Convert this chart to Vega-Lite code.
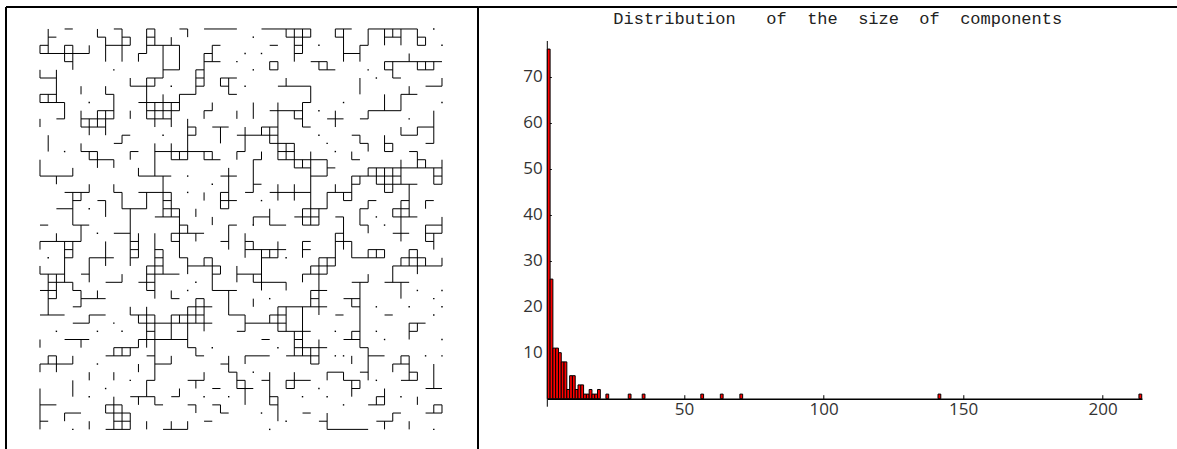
{"$schema":"https://vega.github.io/schema/vega-lite/v6.json","background":"white","padding":{"left":5,"top":6,"right":0,"bottom":0},"spacing":69.3,"bounds":"flush","config":{"view":{"stroke":null}},"hconcat":[{"width":472,"height":442,"layer":[
{"data":{"values":[{"x":-4.144,"x2":-4.144,"y":-2.69,"y2":51.4},{"x":53.39,"x2":53.39,"y":-2.69,"y2":51.4},{"x":-4.144,"x2":53.39,"y":-2.69,"y2":-2.69}]},"mark":{"type":"rule","color":"black","strokeWidth":2},"encoding":{"x":{"field":"x","type":"quantitative","scale":{"domain":[-4.144,53.39],"nice":false,"zero":false},"axis":null},"x2":{"field":"x2"},"y":{"field":"y","type":"quantitative","scale":{"domain":[-2.69,51.4],"reverse":true,"nice":false,"zero":false},"axis":null},"y2":{"field":"y2"}}},
{"data":{"values":[
{"r":0,"a":3,"b":4},{"r":0,"a":9,"b":10},{"r":0,"a":13,"b":14},{"r":0,"a":17,"b":18},{"r":0,"a":20,"b":24},{"r":0,"a":27,"b":33},{"r":0,"a":36,"b":38},{"r":0,"a":40,"b":46},
{"r":1,"a":1,"b":2},{"r":1,"a":7,"b":8},{"r":1,"a":10,"b":11},{"r":1,"a":13,"b":14},{"r":1,"a":30,"b":33},{"r":1,"a":36,"b":37},{"r":1,"a":42,"b":44},{"r":1,"a":46,"b":47},
{"r":2,"a":0,"b":1},{"r":2,"a":3,"b":4},{"r":2,"a":8,"b":11},{"r":2,"a":13,"b":17},{"r":2,"a":21,"b":22},{"r":2,"a":28,"b":29},{"r":2,"a":31,"b":32},{"r":2,"a":39,"b":40},{"r":2,"a":46,"b":47},
{"r":3,"a":0,"b":6},{"r":3,"a":12,"b":13},{"r":3,"a":20,"b":21},{"r":3,"a":31,"b":32},{"r":3,"a":37,"b":39},
{"r":4,"a":3,"b":4},{"r":4,"a":20,"b":22},{"r":4,"a":28,"b":29},{"r":4,"a":33,"b":35},{"r":4,"a":42,"b":49},
{"r":5,"a":15,"b":17},{"r":5,"a":19,"b":20},{"r":5,"a":28,"b":29},{"r":5,"a":34,"b":36},{"r":5,"a":42,"b":43},{"r":5,"a":46,"b":48},
{"r":6,"a":0,"b":2},{"r":6,"a":13,"b":15},{"r":6,"a":19,"b":20},{"r":6,"a":22,"b":24},{"r":6,"a":43,"b":44},
{"r":7,"a":11,"b":14},{"r":7,"a":19,"b":20},{"r":7,"a":22,"b":23},{"r":7,"a":29,"b":33},{"r":7,"a":47,"b":49},
{"r":8,"a":0,"b":2},{"r":8,"a":8,"b":9},{"r":8,"a":17,"b":19},{"r":8,"a":23,"b":24},{"r":8,"a":44,"b":46},
{"r":9,"a":0,"b":3},{"r":9,"a":12,"b":17},{"r":9,"a":32,"b":33},
{"r":10,"a":7,"b":9},{"r":10,"a":13,"b":17},{"r":10,"a":20,"b":21},{"r":10,"a":28,"b":32},{"r":10,"a":40,"b":44},
{"r":11,"a":2,"b":3},{"r":11,"a":5,"b":9},{"r":11,"a":13,"b":16},{"r":11,"a":31,"b":32},{"r":11,"a":35,"b":37},{"r":11,"a":39,"b":40},
{"r":12,"a":5,"b":8},{"r":12,"a":18,"b":19},{"r":12,"a":21,"b":23},{"r":12,"a":27,"b":29},{"r":12,"a":32,"b":33},{"r":12,"a":46,"b":48},
{"r":13,"a":10,"b":11},{"r":13,"a":18,"b":19},{"r":13,"a":24,"b":29},{"r":13,"a":38,"b":39},{"r":13,"a":44,"b":46},
{"r":14,"a":9,"b":10},{"r":14,"a":28,"b":31},{"r":14,"a":39,"b":40},{"r":14,"a":42,"b":43},{"r":14,"a":47,"b":48},
{"r":15,"a":5,"b":7},{"r":15,"a":11,"b":12},{"r":15,"a":14,"b":21},{"r":15,"a":24,"b":25},{"r":15,"a":29,"b":31},{"r":15,"a":42,"b":43},{"r":15,"a":45,"b":46},
{"r":16,"a":6,"b":9},{"r":16,"a":16,"b":18},{"r":16,"a":20,"b":22},{"r":16,"a":26,"b":27},{"r":16,"a":29,"b":35},{"r":16,"a":38,"b":39},{"r":16,"a":46,"b":47},
{"r":17,"a":31,"b":33},{"r":17,"a":35,"b":36},{"r":17,"a":40,"b":49},
{"r":18,"a":0,"b":4},{"r":18,"a":12,"b":16},{"r":18,"a":22,"b":24},{"r":18,"a":33,"b":35},{"r":18,"a":38,"b":44},{"r":18,"a":48,"b":49},
{"r":19,"a":26,"b":27},{"r":19,"a":38,"b":39},{"r":19,"a":41,"b":46},{"r":19,"a":48,"b":49},
{"r":20,"a":3,"b":6},{"r":20,"a":9,"b":10},{"r":20,"a":12,"b":16},{"r":20,"a":22,"b":23},{"r":20,"a":25,"b":26},{"r":20,"a":28,"b":33},{"r":20,"a":35,"b":38},{"r":20,"a":42,"b":43},
{"r":21,"a":4,"b":5},{"r":21,"a":7,"b":8},{"r":21,"a":15,"b":16},{"r":21,"a":22,"b":24},{"r":21,"a":37,"b":38},{"r":21,"a":40,"b":41},{"r":21,"a":44,"b":45},{"r":21,"a":47,"b":48},
{"r":22,"a":2,"b":4},{"r":22,"a":10,"b":13},{"r":22,"a":15,"b":17},{"r":22,"a":22,"b":23},{"r":22,"a":32,"b":35},{"r":22,"a":39,"b":40},{"r":22,"a":43,"b":45},
{"r":23,"a":14,"b":17},{"r":23,"a":26,"b":28},{"r":23,"a":31,"b":34},{"r":23,"a":36,"b":37},{"r":23,"a":43,"b":46},
{"r":24,"a":0,"b":1},{"r":24,"a":4,"b":6},{"r":24,"a":17,"b":18},{"r":24,"a":23,"b":24},{"r":24,"a":28,"b":30},{"r":24,"a":32,"b":34},{"r":24,"a":39,"b":40},{"r":24,"a":47,"b":49},
{"r":25,"a":9,"b":11},{"r":25,"a":16,"b":20},{"r":25,"a":36,"b":37},{"r":25,"a":43,"b":45},{"r":25,"a":47,"b":49},
{"r":26,"a":0,"b":5},{"r":26,"a":11,"b":12},{"r":26,"a":16,"b":17},{"r":26,"a":22,"b":23},{"r":26,"a":25,"b":26},{"r":26,"a":32,"b":33},{"r":26,"a":36,"b":38},{"r":26,"a":47,"b":48},
{"r":27,"a":3,"b":4},{"r":27,"a":11,"b":12},{"r":27,"a":14,"b":15},{"r":27,"a":25,"b":30},{"r":27,"a":32,"b":33},{"r":27,"a":40,"b":42},{"r":27,"a":45,"b":46},
{"r":28,"a":3,"b":4},{"r":28,"a":6,"b":9},{"r":28,"a":11,"b":12},{"r":28,"a":14,"b":15},{"r":28,"a":17,"b":18},{"r":28,"a":20,"b":21},{"r":28,"a":27,"b":29},{"r":28,"a":34,"b":36},{"r":28,"a":38,"b":42},{"r":28,"a":44,"b":47},
{"r":29,"a":13,"b":15},{"r":29,"a":18,"b":22},{"r":29,"a":33,"b":36},{"r":29,"a":43,"b":49},
{"r":30,"a":0,"b":3},{"r":30,"a":5,"b":6},{"r":30,"a":13,"b":17},{"r":30,"a":21,"b":22},{"r":30,"a":24,"b":27},{"r":30,"a":32,"b":35},
{"r":31,"a":1,"b":4},{"r":31,"a":8,"b":10},{"r":31,"a":12,"b":14},{"r":31,"a":26,"b":30},{"r":31,"a":38,"b":40},{"r":31,"a":42,"b":45},
{"r":32,"a":0,"b":2},{"r":32,"a":4,"b":5},{"r":32,"a":13,"b":14},{"r":32,"a":21,"b":24},{"r":32,"a":33,"b":35},
{"r":33,"a":1,"b":2},{"r":33,"a":5,"b":8},{"r":33,"a":16,"b":17},{"r":33,"a":19,"b":20},{"r":33,"a":33,"b":34},{"r":33,"a":37,"b":39},
{"r":34,"a":4,"b":5},{"r":34,"a":18,"b":21},{"r":34,"a":29,"b":35},{"r":34,"a":38,"b":39},
{"r":35,"a":0,"b":3},{"r":35,"a":6,"b":8},{"r":35,"a":11,"b":14},{"r":35,"a":16,"b":20},{"r":35,"a":23,"b":25},{"r":35,"a":28,"b":30},{"r":35,"a":36,"b":37},{"r":35,"a":42,"b":43},
{"r":36,"a":4,"b":6},{"r":36,"a":12,"b":21},{"r":36,"a":25,"b":30},{"r":36,"a":45,"b":47},
{"r":37,"a":13,"b":14},{"r":37,"a":24,"b":25},{"r":37,"a":29,"b":33},{"r":37,"a":38,"b":39},{"r":37,"a":45,"b":46},
{"r":38,"a":3,"b":6},{"r":38,"a":12,"b":18},{"r":38,"a":27,"b":28},{"r":38,"a":31,"b":32},{"r":38,"a":37,"b":39},
{"r":39,"a":9,"b":12},{"r":39,"a":18,"b":19},{"r":39,"a":31,"b":35},{"r":39,"a":39,"b":40},
{"r":40,"a":1,"b":2},{"r":40,"a":8,"b":11},{"r":40,"a":13,"b":14},{"r":40,"a":19,"b":20},{"r":40,"a":25,"b":28},{"r":40,"a":30,"b":34},{"r":40,"a":40,"b":42},{"r":40,"a":44,"b":45},
{"r":41,"a":0,"b":4},{"r":41,"a":14,"b":16},{"r":41,"a":22,"b":23},{"r":41,"a":33,"b":34},{"r":41,"a":43,"b":45},
{"r":42,"a":23,"b":24},{"r":42,"a":35,"b":37},{"r":42,"a":39,"b":40},{"r":42,"a":45,"b":46},
{"r":43,"a":13,"b":14},{"r":43,"a":18,"b":20},{"r":43,"a":24,"b":25},{"r":43,"a":27,"b":28},{"r":43,"a":30,"b":33},{"r":43,"a":37,"b":39},{"r":43,"a":44,"b":46},
{"r":44,"a":21,"b":22},{"r":44,"a":24,"b":26},{"r":44,"a":30,"b":31},{"r":44,"a":38,"b":39},{"r":44,"a":47,"b":49},
{"r":45,"a":11,"b":14},{"r":45,"a":16,"b":17},{"r":45,"a":28,"b":29},{"r":45,"a":41,"b":42},
{"r":46,"a":0,"b":2},{"r":46,"a":8,"b":10},{"r":46,"a":14,"b":15},{"r":46,"a":18,"b":19},{"r":46,"a":21,"b":22},{"r":46,"a":28,"b":29},{"r":46,"a":40,"b":42},{"r":46,"a":48,"b":49},
{"r":47,"a":3,"b":5},{"r":47,"a":8,"b":11},{"r":47,"a":22,"b":23},{"r":47,"a":32,"b":33},{"r":47,"a":43,"b":44},{"r":47,"a":47,"b":49},
{"r":48,"a":0,"b":1},{"r":48,"a":9,"b":11},{"r":48,"a":20,"b":21},{"r":48,"a":34,"b":35},{"r":48,"a":41,"b":43},
{"r":49,"a":8,"b":11},{"r":49,"a":15,"b":18},{"r":49,"a":35,"b":40}
]},"mark":{"type":"rule","color":"black","strokeWidth":1},"encoding":{"x":{"field":"a","type":"quantitative","scale":{"domain":[-4.144,53.39],"nice":false,"zero":false},"axis":null},"x2":{"field":"b"},"y":{"field":"r","type":"quantitative","scale":{"domain":[-2.69,51.4],"reverse":true,"nice":false,"zero":false},"axis":null}}},
{"data":{"values":[
{"c":0,"a":2,"b":3},{"c":0,"a":5,"b":6},{"c":0,"a":8,"b":9},{"c":0,"a":11,"b":12},{"c":0,"a":16,"b":18},{"c":0,"a":26,"b":27},{"c":0,"a":29,"b":30},{"c":0,"a":38,"b":39},{"c":0,"a":41,"b":42},{"c":0,"a":44,"b":49},
{"c":1,"a":0,"b":3},{"c":1,"a":8,"b":9},{"c":1,"a":13,"b":15},{"c":1,"a":30,"b":35},{"c":1,"a":40,"b":41},
{"c":2,"a":5,"b":9},{"c":2,"a":18,"b":19},{"c":2,"a":25,"b":26},{"c":2,"a":30,"b":33},{"c":2,"a":40,"b":42},
{"c":3,"a":2,"b":4},{"c":3,"a":9,"b":11},{"c":3,"a":26,"b":31},{"c":3,"a":47,"b":48},
{"c":4,"a":2,"b":5},{"c":4,"a":17,"b":18},{"c":4,"a":20,"b":24},{"c":4,"a":26,"b":28},{"c":4,"a":31,"b":32},{"c":4,"a":40,"b":41},{"c":4,"a":43,"b":45},
{"c":5,"a":7,"b":8},{"c":5,"a":10,"b":12},{"c":5,"a":14,"b":15},{"c":5,"a":20,"b":21},{"c":5,"a":24,"b":26},{"c":5,"a":32,"b":34},{"c":5,"a":38,"b":39},
{"c":6,"a":2,"b":3},{"c":6,"a":11,"b":13},{"c":6,"a":15,"b":16},{"c":6,"a":19,"b":20},{"c":6,"a":28,"b":31},{"c":6,"a":35,"b":36},{"c":6,"a":42,"b":43},{"c":6,"a":48,"b":49},
{"c":7,"a":0,"b":1},{"c":7,"a":10,"b":12},{"c":7,"a":15,"b":17},{"c":7,"a":32,"b":33},
{"c":8,"a":1,"b":4},{"c":8,"a":7,"b":8},{"c":8,"a":10,"b":13},{"c":8,"a":21,"b":23},{"c":8,"a":26,"b":29},{"c":8,"a":46,"b":47},
{"c":9,"a":8,"b":11},{"c":9,"a":16,"b":17},{"c":9,"a":19,"b":20},{"c":9,"a":39,"b":40},{"c":9,"a":42,"b":43},{"c":9,"a":45,"b":49},
{"c":10,"a":0,"b":4},{"c":10,"a":13,"b":14},{"c":10,"a":20,"b":22},{"c":10,"a":30,"b":31},{"c":10,"a":39,"b":40},{"c":10,"a":46,"b":49},
{"c":11,"a":1,"b":2},{"c":11,"a":6,"b":7},{"c":11,"a":10,"b":11},{"c":11,"a":15,"b":16},{"c":11,"a":22,"b":29},{"c":11,"a":34,"b":35},{"c":11,"a":39,"b":40},{"c":11,"a":47,"b":49},
{"c":12,"a":3,"b":4},{"c":12,"a":17,"b":18},{"c":12,"a":25,"b":28},{"c":12,"a":35,"b":36},{"c":12,"a":38,"b":39},{"c":12,"a":41,"b":42},{"c":12,"a":45,"b":46},
{"c":13,"a":0,"b":3},{"c":13,"a":6,"b":11},{"c":13,"a":20,"b":22},{"c":13,"a":29,"b":32},{"c":13,"a":34,"b":39},{"c":13,"a":43,"b":45},{"c":13,"a":48,"b":49},
{"c":14,"a":0,"b":2},{"c":14,"a":6,"b":7},{"c":14,"a":9,"b":12},{"c":14,"a":14,"b":18},{"c":14,"a":25,"b":33},{"c":14,"a":35,"b":43},{"c":14,"a":45,"b":46},
{"c":15,"a":2,"b":6},{"c":15,"a":8,"b":11},{"c":15,"a":18,"b":23},{"c":15,"a":27,"b":30},
{"c":16,"a":1,"b":2},{"c":16,"a":9,"b":12},{"c":16,"a":14,"b":16},{"c":16,"a":20,"b":23},{"c":16,"a":25,"b":26},{"c":16,"a":32,"b":33},{"c":16,"a":35,"b":38},{"c":16,"a":40,"b":41},{"c":16,"a":48,"b":49},
{"c":17,"a":2,"b":5},{"c":17,"a":8,"b":10},{"c":17,"a":15,"b":16},{"c":17,"a":22,"b":28},{"c":17,"a":35,"b":36},{"c":17,"a":44,"b":45},
{"c":18,"a":0,"b":1},{"c":18,"a":11,"b":16},{"c":18,"a":24,"b":25},{"c":18,"a":28,"b":30},{"c":18,"a":34,"b":39},{"c":18,"a":48,"b":49},
{"c":19,"a":5,"b":8},{"c":19,"a":12,"b":13},{"c":19,"a":22,"b":23},{"c":19,"a":25,"b":26},{"c":19,"a":33,"b":36},{"c":19,"a":39,"b":40},{"c":19,"a":43,"b":44},{"c":19,"a":46,"b":47},
{"c":20,"a":3,"b":7},{"c":20,"a":10,"b":11},{"c":20,"a":15,"b":16},{"c":20,"a":20,"b":21},{"c":20,"a":28,"b":29},{"c":20,"a":33,"b":37},{"c":20,"a":42,"b":43},
{"c":21,"a":2,"b":4},{"c":21,"a":9,"b":10},{"c":21,"a":15,"b":16},{"c":21,"a":23,"b":24},{"c":21,"a":28,"b":32},
{"c":22,"a":6,"b":7},{"c":22,"a":12,"b":14},{"c":22,"a":20,"b":22},{"c":22,"a":29,"b":30},{"c":22,"a":46,"b":47},
{"c":23,"a":6,"b":8},{"c":23,"a":17,"b":22},{"c":23,"a":24,"b":27},{"c":23,"a":32,"b":35},{"c":23,"a":40,"b":42},
{"c":24,"a":10,"b":11},{"c":24,"a":15,"b":16},{"c":24,"a":29,"b":31},{"c":24,"a":42,"b":44},
{"c":25,"a":12,"b":15},{"c":25,"a":25,"b":28},{"c":25,"a":35,"b":37},{"c":25,"a":40,"b":41},{"c":25,"a":43,"b":46},
{"c":26,"a":9,"b":11},{"c":26,"a":16,"b":20},{"c":26,"a":23,"b":24},{"c":26,"a":26,"b":27},{"c":26,"a":30,"b":31},{"c":26,"a":33,"b":34},
{"c":27,"a":12,"b":13},{"c":27,"a":15,"b":16},{"c":27,"a":27,"b":32},
{"c":28,"a":4,"b":5},{"c":28,"a":12,"b":14},{"c":28,"a":22,"b":24},{"c":28,"a":27,"b":28},{"c":28,"a":35,"b":36},{"c":28,"a":42,"b":46},
{"c":29,"a":4,"b":5},{"c":29,"a":9,"b":16},{"c":29,"a":19,"b":21},{"c":29,"a":26,"b":28},{"c":29,"a":34,"b":37},{"c":29,"a":45,"b":48},
{"c":30,"a":0,"b":1},{"c":30,"a":6,"b":7},{"c":30,"a":14,"b":16},{"c":30,"a":31,"b":32},{"c":30,"a":34,"b":37},{"c":30,"a":43,"b":44},
{"c":31,"a":0,"b":4},{"c":31,"a":10,"b":11},{"c":31,"a":14,"b":17},{"c":31,"a":19,"b":21},{"c":31,"a":37,"b":40},{"c":31,"a":42,"b":44},
{"c":32,"a":0,"b":3},{"c":32,"a":9,"b":12},{"c":32,"a":16,"b":17},{"c":32,"a":22,"b":24},{"c":32,"a":26,"b":28},{"c":32,"a":30,"b":31},{"c":32,"a":34,"b":40},
{"c":33,"a":0,"b":1},{"c":33,"a":7,"b":9},{"c":33,"a":15,"b":24},{"c":33,"a":29,"b":30},{"c":33,"a":32,"b":34},{"c":33,"a":39,"b":41},
{"c":34,"a":4,"b":5},{"c":34,"a":22,"b":24},{"c":34,"a":28,"b":35},{"c":34,"a":38,"b":41},
{"c":35,"a":4,"b":5},{"c":35,"a":16,"b":18},{"c":35,"a":20,"b":22},{"c":35,"a":28,"b":30},{"c":35,"a":42,"b":43},{"c":35,"a":47,"b":49},
{"c":36,"a":0,"b":1},{"c":36,"a":10,"b":12},{"c":36,"a":19,"b":20},{"c":36,"a":25,"b":29},
{"c":37,"a":0,"b":4},{"c":37,"a":20,"b":21},{"c":37,"a":23,"b":27},{"c":37,"a":42,"b":43},
{"c":38,"a":15,"b":16},{"c":38,"a":18,"b":21},{"c":38,"a":26,"b":28},{"c":38,"a":33,"b":34},{"c":38,"a":37,"b":38},{"c":38,"a":40,"b":41},{"c":38,"a":43,"b":45},
{"c":39,"a":2,"b":4},{"c":39,"a":6,"b":8},{"c":39,"a":13,"b":14},{"c":39,"a":18,"b":19},{"c":39,"a":22,"b":24},{"c":39,"a":31,"b":39},{"c":39,"a":43,"b":44},
{"c":40,"a":0,"b":2},{"c":40,"a":10,"b":11},{"c":40,"a":14,"b":15},{"c":40,"a":17,"b":18},{"c":40,"a":21,"b":22},{"c":40,"a":24,"b":25},{"c":40,"a":27,"b":28},{"c":40,"a":30,"b":31},{"c":40,"a":39,"b":43},
{"c":41,"a":17,"b":19},{"c":41,"a":27,"b":28},{"c":41,"a":45,"b":46},
{"c":42,"a":0,"b":2},{"c":42,"a":4,"b":5},{"c":42,"a":8,"b":10},{"c":42,"a":13,"b":15},{"c":42,"a":17,"b":20},{"c":42,"a":27,"b":28},{"c":42,"a":44,"b":46},{"c":42,"a":48,"b":49},
{"c":43,"a":0,"b":1},{"c":43,"a":4,"b":6},{"c":43,"a":14,"b":15},{"c":43,"a":17,"b":20},{"c":43,"a":22,"b":23},{"c":43,"a":29,"b":31},{"c":43,"a":41,"b":42},{"c":43,"a":47,"b":48},
{"c":44,"a":0,"b":2},{"c":44,"a":8,"b":10},{"c":44,"a":12,"b":13},{"c":44,"a":16,"b":19},{"c":44,"a":21,"b":26},{"c":44,"a":28,"b":29},{"c":44,"a":31,"b":33},{"c":44,"a":40,"b":41},
{"c":45,"a":3,"b":4},{"c":45,"a":7,"b":8},{"c":45,"a":19,"b":23},{"c":45,"a":27,"b":29},{"c":45,"a":36,"b":38},{"c":45,"a":40,"b":43},{"c":45,"a":48,"b":49},
{"c":46,"a":0,"b":2},{"c":46,"a":4,"b":5},{"c":46,"a":12,"b":13},{"c":46,"a":15,"b":17},{"c":46,"a":27,"b":30},{"c":46,"a":36,"b":37},{"c":46,"a":42,"b":43},{"c":46,"a":45,"b":46},
{"c":47,"a":1,"b":2},{"c":47,"a":4,"b":5},{"c":47,"a":16,"b":17},{"c":47,"a":21,"b":22},{"c":47,"a":24,"b":26},{"c":47,"a":28,"b":29},
{"c":48,"a":4,"b":5},{"c":48,"a":10,"b":14},{"c":48,"a":17,"b":19},{"c":48,"a":25,"b":27},{"c":48,"a":41,"b":44},{"c":48,"a":46,"b":47},
{"c":49,"a":6,"b":7},{"c":49,"a":16,"b":19},{"c":49,"a":23,"b":25},{"c":49,"a":28,"b":29},{"c":49,"a":46,"b":47}
]},"mark":{"type":"rule","color":"black","strokeWidth":1},"encoding":{"x":{"field":"c","type":"quantitative","scale":{"domain":[-4.144,53.39],"nice":false,"zero":false},"axis":null},"y":{"field":"a","type":"quantitative","scale":{"domain":[-2.69,51.4],"reverse":true,"nice":false,"zero":false},"axis":null},"y2":{"field":"b"}}},
{"data":{"values":[{"c":9,"r":5},{"c":16,"r":7},{"c":6,"r":9},{"c":15,"r":13},{"c":3,"r":15},{"c":18,"r":18},{"c":21,"r":19},{"c":18,"r":20},{"c":6,"r":22},{"c":24,"r":4},{"c":1,"r":28},{"c":7,"r":25},{"c":19,"r":31},{"c":18,"r":32},{"c":9,"r":36},{"c":2,"r":37},{"c":7,"r":37},{"c":10,"r":37},{"c":21,"r":39},{"c":7,"r":41},{"c":11,"r":43},{"c":8,"r":44},{"c":6,"r":45},{"c":4,"r":49},{"c":20,"r":45},{"c":23,"r":45},{"c":26,"r":1},{"c":25,"r":3},{"c":27,"r":3},{"c":26,"r":5},{"c":34,"r":2},{"c":48,"r":0},{"c":49,"r":2},{"c":40,"r":5},{"c":41,"r":6},{"c":25,"r":7},{"c":37,"r":9},{"c":49,"r":9},{"c":34,"r":10},{"c":45,"r":11},{"c":34,"r":13},{"c":35,"r":14},{"c":36,"r":15},{"c":27,"r":21},{"c":41,"r":23},{"c":26,"r":24},{"c":42,"r":24},{"c":30,"r":28},{"c":28,"r":33},{"c":41,"r":34},{"c":45,"r":34},{"c":48,"r":33},{"c":49,"r":32},{"c":46,"r":32},{"c":49,"r":34},{"c":48,"r":35},{"c":36,"r":37},{"c":41,"r":37},{"c":42,"r":38},{"c":49,"r":38},{"c":29,"r":39},{"c":36,"r":40},{"c":37,"r":40},{"c":47,"r":40},{"c":49,"r":40},{"c":41,"r":43},{"c":26,"r":42},{"c":34,"r":44},{"c":32,"r":45},{"c":35,"r":45},{"c":37,"r":46},{"c":44,"r":45},{"c":27,"r":47},{"c":30,"r":48},{"c":28,"r":49},{"c":48,"r":49}]},"mark":{"type":"square","color":"black","size":2,"opacity":1},"encoding":{"x":{"field":"c","type":"quantitative","scale":{"domain":[-4.144,53.39],"nice":false,"zero":false},"axis":null},"y":{"field":"r","type":"quantitative","scale":{"domain":[-2.69,51.4],"reverse":true,"nice":false,"zero":false},"axis":null}}}
]},
{"width":594.7,"height":391.7,"title":{"text":"Distribution\u00a0\u00a0\u00a0of\u00a0\u00a0the\u00a0\u00a0size\u00a0\u00a0of\u00a0\u00a0components","anchor":"start","frame":"group","dx":66,"offset":-22,"font":"Liberation Mono","fontSize":17,"fontWeight":"normal","color":"#222222"},"layer":[
{"data":{"values":[{"x":-23.8,"x2":226.7,"y":85.15}]},"mark":{"type":"rule","color":"black","strokeWidth":2},"encoding":{"x":{"field":"x","type":"quantitative","scale":{"domain":[1,214.1],"nice":false,"zero":false,"padding":0},"axis":{"values":[50,100,150,200],"title":null,"grid":false,"tickSize":-4,"tickColor":"black","domainColor":"black","domainWidth":1.5,"labelFont":"Open Sans","labelFontSize":17,"labelColor":"#333333","labelPadding":7}},"x2":{"field":"x2"},"y":{"field":"y","type":"quantitative","scale":{"domain":[0,85.15],"nice":false},"axis":{"values":[10,20,30,40,50,60,70],"title":null,"grid":false,"domain":false,"tickSize":-4,"tickColor":"black","labelFont":"Open Sans","labelFontSize":17,"labelColor":"#333333","labelPadding":9}}}},
{"data":{"values":[{"x":1,"y":-1.74,"y2":77.76}]},"mark":{"type":"rule","color":"black","strokeWidth":1},"encoding":{"x":{"field":"x","type":"quantitative","scale":{"domain":[1,214.1],"nice":false,"zero":false,"padding":0}},"y":{"field":"y","type":"quantitative","scale":{"domain":[0,85.15],"nice":false}},"y2":{"field":"y2"}}},
{"data":{"values":[{"size":1,"count":76},{"size":2,"count":26},{"size":3,"count":11},{"size":4,"count":11},{"size":5,"count":10},{"size":6,"count":8},{"size":7,"count":8},{"size":8,"count":2},{"size":9,"count":5},{"size":10,"count":5},{"size":11,"count":2},{"size":12,"count":3},{"size":13,"count":3},{"size":14,"count":1},{"size":15,"count":1},{"size":16,"count":2},{"size":17,"count":1},{"size":18,"count":1},{"size":19,"count":2},{"size":22,"count":1},{"size":30,"count":1},{"size":35,"count":1},{"size":56,"count":1},{"size":63,"count":1},{"size":70,"count":1},{"size":141,"count":1},{"size":213,"count":1}]},"mark":{"type":"bar","fill":"#ff0000","stroke":"black","strokeWidth":1,"width":2.79,"xOffset":1.4},"encoding":{"x":{"field":"size","type":"quantitative","scale":{"domain":[1,214.1],"nice":false,"zero":false,"padding":0}},"y":{"field":"count","type":"quantitative","scale":{"domain":[0,85.15],"nice":false}}}}
]}]}
